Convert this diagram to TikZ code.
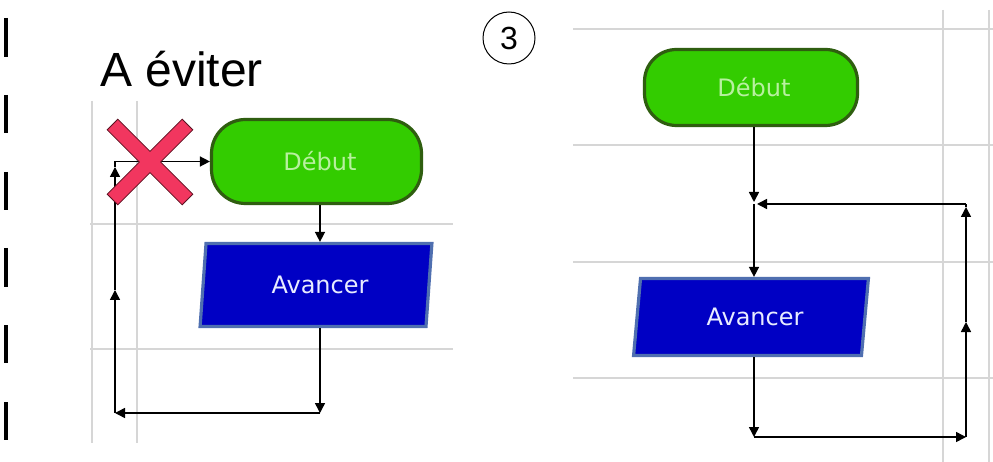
\documentclass[tikz,border=0pt]{standalone}
\usepackage{fontspec}
\setmainfont{Liberation Sans}
\newfontfamily\nodefont{DejaVu Sans}
\usetikzlibrary{shapes.geometric,arrows.meta}
\definecolor{gfill}{HTML}{33CC00}
\definecolor{gline}{HTML}{2F5E10}
\definecolor{gtext}{HTML}{B8F0A0}
\definecolor{bfill}{HTML}{0000C4}
\definecolor{bline}{HTML}{4F6FB0}
\definecolor{btext}{HTML}{E8ECFF}
\definecolor{xfill}{HTML}{F2365F}
\definecolor{xline}{HTML}{5A1020}
\definecolor{gridc}{HTML}{D6D6D6}
\tikzset{
  gridline/.style={draw=gridc, line width=1.2pt},
  startbox/.style={draw=gline, fill=gfill, line width=3.2pt, rounded corners=34pt,
    text=gtext, font=\nodefont\fontsize{24}{26}\selectfont, inner sep=0pt},
  iobox/.style={trapezium, trapezium stretches=true, draw=bline, fill=bfill, line width=3.2pt,
    text=btext, font=\nodefont\fontsize{24}{26}\selectfont, inner sep=0pt},
  conn/.style={line width=1.5pt, black},
  arr/.style={conn, -{Triangle[length=10pt,width=10pt]}},
  bar/.style={line width=4pt, black},
}
\begin{document}
\begin{tikzpicture}[x=1pt,y=-1pt]
\useasboundingbox[fill=white] (0,0) rectangle (993,462);

% left vertical bars
\foreach \a/\b in {18/57, 95/133, 172/210, 248/287, 325/363, 402/440}
  \draw[bar] (6,\a) -- (6,\b);

% title
\node[anchor=base west, inner sep=0pt, font=\fontsize{48}{52}\selectfont] (title) at (100,87) {A éviter};

% circled number
\node[draw, circle, line width=1pt, minimum size=52pt, inner sep=0pt, font=\fontsize{32}{34}\selectfont] (num) at (509,38) {3};

% left grid
\draw[gridline] (92,101) -- (92,443);
\draw[gridline] (137,101) -- (137,443);
\draw[gridline] (90,224) -- (453,224);
\draw[gridline] (90,349) -- (453,349);

% right grid
\foreach \yy in {29,145,262,378}
  \draw[gridline] (573,\yy) -- (993,\yy);
\draw[gridline] (943,10) -- (943,462);
\draw[gridline] (989,10) -- (989,462);

% left flowchart
\node[startbox, minimum width=210pt, minimum height=84pt] (debutL) at (316.5,161.5) {\hspace*{7pt}Début};
\node[iobox, trapezium left angle=81, trapezium right angle=99, minimum width=232pt, minimum height=83pt] (avL) at (316,285) {\hspace*{8pt}Avancer};

\coordinate (L1) at (320,413);
\coordinate (L2) at (115,413);
\coordinate (La) at (115,290);
\coordinate (Lb) at (115,167);
\coordinate (L3) at (115,161.5);

\draw[arr] (debutL.south -| L1) -- (avL.north -| L1);
\draw[arr] (avL.south -| L1) -- (L1);
\draw[arr] (L1) -- (L2);
\draw[arr] (L2) -- (La);
\draw[arr] (La) -- (Lb);
\draw[conn] (Lb) -- (L3);
\draw[arr] (L3) -- (debutL.west);

% red cross
\begin{scope}[shift={(150,162)}, rotate=45]
\filldraw[fill=xfill, draw=xline, line width=0.8pt]
  (-53,-7.5) -- (-7.5,-7.5) -- (-7.5,-53) -- (7.5,-53) -- (7.5,-7.5) -- (53,-7.5)
  -- (53,7.5) -- (7.5,7.5) -- (7.5,53) -- (-7.5,53) -- (-7.5,7.5) -- (-53,7.5) -- cycle;
\end{scope}

% right flowchart
\node[startbox, minimum width=213pt, minimum height=76pt, rounded corners=32pt] (debutR) at (751,87.5) {\hspace*{6pt}Début};
\node[iobox, trapezium left angle=79.5, trapezium right angle=100.5, minimum width=235pt, minimum height=77pt] (avR) at (751,317) {\hspace*{8pt}Avancer};

\coordinate (R0) at (754,204);
\coordinate (R0a) at (754,202);
\coordinate (R1) at (754,437);
\coordinate (R2) at (966,437);
\coordinate (Rm) at (966,322);
\coordinate (Rt) at (966,207);
\coordinate (R3) at (966,204);
\coordinate (R0b) at (757,204);

\draw[arr] (debutR.south -| R0) -- (R0a);
\draw[arr] (R0) -- (avR.north -| R0);
\draw[arr] (avR.south -| R1) -- (R1);
\draw[arr] (R1) -- (R2);
\draw[arr] (R2) -- (Rm);
\draw[arr] (Rm) -- (Rt);
\draw[conn] (Rt) -- (R3);
\draw[arr] (R3) -- (R0b);
\end{tikzpicture}
\end{document}
